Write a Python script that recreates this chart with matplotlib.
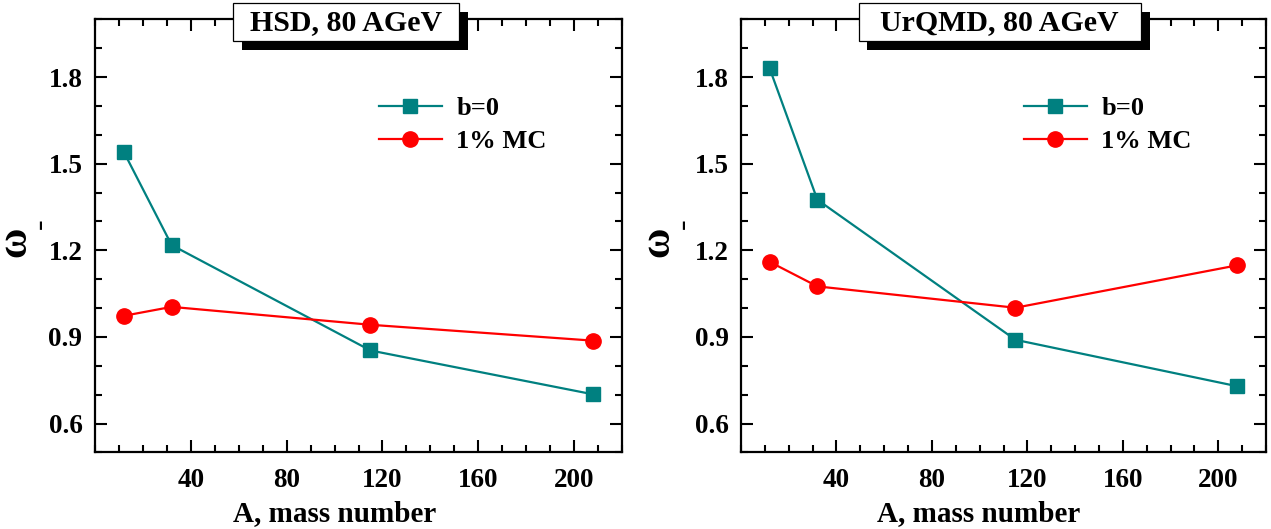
import matplotlib
matplotlib.use("Agg")
import matplotlib.pyplot as plt
from matplotlib.patches import Rectangle
from matplotlib.ticker import MultipleLocator

plt.rcParams['font.family'] = ['Liberation Serif', 'DejaVu Serif']
plt.rcParams['font.weight'] = 'bold'
plt.rcParams['mathtext.fontset'] = 'custom'
plt.rcParams['mathtext.rm'] = 'Liberation Serif'
plt.rcParams['mathtext.it'] = 'Liberation Serif:italic'
plt.rcParams['mathtext.bf'] = 'Liberation Serif:bold'

# mass numbers (C, S, In, Pb)
mass = [12, 32, 115, 208]

hsd_b0 = [1.541, 1.218, 0.853, 0.701]
hsd_mc = [0.973, 1.004, 0.942, 0.887]

urqmd_b0 = [1.830, 1.375, 0.890, 0.729]
urqmd_mc = [1.160, 1.075, 1.001, 1.148]

titles = ['HSD, 80 AGeV', 'UrQMD, 80 AGeV']
series_labels = ['b=0', '1% MC']

teal = '#008080'
red = '#ff0000'

W, H = 1271, 529
fig = plt.figure(figsize=(W / 100, H / 100), dpi=100)

# axes boxes in pixels: left, top, width, height
boxes = [(95, 19.3, 527, 433.1), (741, 19.3, 525, 433.1)]
# title boxes in pixels: left, top, right, bottom
tboxes = [(233, 3, 459, 40.5), (858.6, 2.7, 1141, 40.7)]
label_x = [0.455, 0.453]
# omega and its subscript, axes fractions
omega_xy = [(-0.148, 0.481), (-0.155, 0.483)]
minus_xy = [(-0.104, 0.527), (-0.110, 0.529)]
data = [(hsd_b0, hsd_mc), (urqmd_b0, urqmd_mc)]


def fx(px):
    return px / W


def fy(py):
    return 1 - py / H


for i in range(2):
    l, t, w, h = boxes[i]
    ax = fig.add_axes([fx(l), fy(t + h), w / W, h / H])
    b0, mc = data[i]

    ax.plot(mass, b0, '-s', color=teal, lw=1.6, ms=10, mec=teal, label=series_labels[0])
    ax.plot(mass, mc, '-o', color=red, lw=1.6, ms=11, mec=red, label=series_labels[1])

    ax.set_xlim(0, 220)
    ax.set_ylim(0.5, 2.0)
    ax.xaxis.set_minor_locator(MultipleLocator(10))
    ax.yaxis.set_minor_locator(MultipleLocator(0.1))
    ax.set_xticks([40, 80, 120, 160, 200])
    ax.set_yticks([0.6, 0.9, 1.2, 1.5, 1.8])

    ax.tick_params(which='both', direction='in', top=True, right=True, width=1.5)
    ax.tick_params(which='major', length=8.5, labelsize=19.5)
    ax.tick_params(axis='x', which='major', pad=11)
    ax.tick_params(axis='y', which='major', pad=9)
    ax.tick_params(which='minor', length=4.8)
    for s in ax.spines.values():
        s.set_linewidth(1.6)

    ax.set_xlabel('A, mass number', fontsize=21, fontweight='bold', x=label_x[i], labelpad=5)

    ox, oy = omega_xy[i]
    ax.text(ox, oy, r'$\mathrm{\omega}$', transform=ax.transAxes, rotation=90, fontsize=30,
            ha='center', va='center')
    mx, my = minus_xy[i]
    ax.text(mx, my, '-', transform=ax.transAxes, rotation=90, fontsize=23,
            fontweight='normal', ha='center', va='center')

    ax.legend(loc='upper left', bbox_to_anchor=(0.518, 0.845), frameon=False, fontsize=19,
              handlelength=2.4, handletextpad=0.55, labelspacing=0.35, borderaxespad=0)

    # title box with offset black shadow
    x0, y0, x1, y1 = tboxes[i]
    shadow = Rectangle((fx(x0 + 8.5), fy(y1 + 9)), (x1 - x0) / W, (y1 - y0) / H,
                       transform=fig.transFigure, facecolor='black', edgecolor='black',
                       lw=0, zorder=5)
    box = Rectangle((fx(x0), fy(y1)), (x1 - x0) / W, (y1 - y0) / H,
                    transform=fig.transFigure, facecolor='white', edgecolor='black',
                    lw=0.9, zorder=6)
    fig.add_artist(shadow)
    fig.add_artist(box)
    fig.text(fx((x0 + x1) / 2), fy((y0 + y1) / 2 + 1), titles[i], ha='center', va='center',
             fontsize=21.5, fontweight='bold', zorder=7)

fig.savefig('out.png', dpi=100)
